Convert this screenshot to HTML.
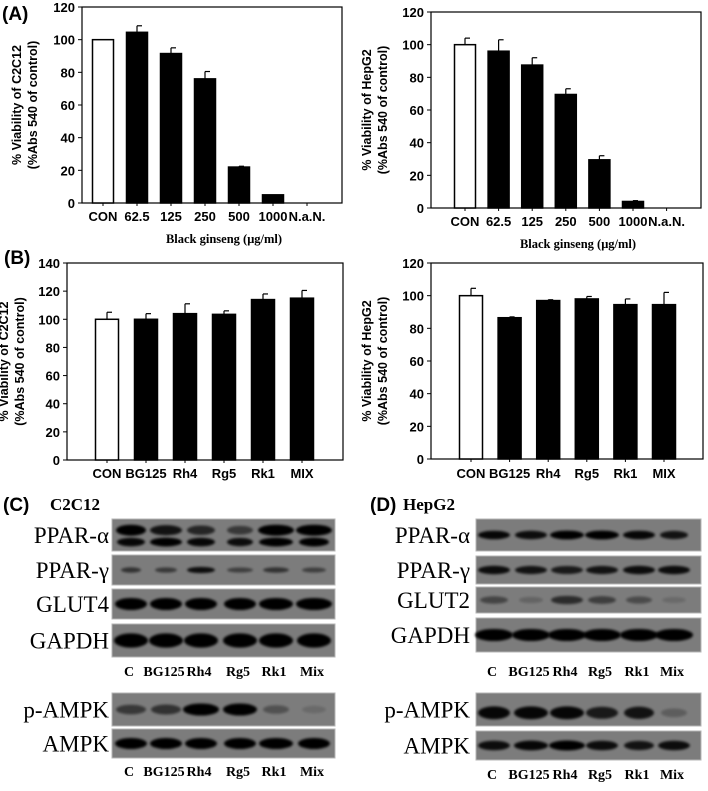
<!DOCTYPE html>
<html><head><meta charset="utf-8"><style>
html,body{margin:0;padding:0;background:#fff;}
body{width:708px;height:786px;overflow:hidden;position:relative;}
svg text{font-family:"Liberation Sans",sans-serif;}
</style></head><body>
<svg id="fig" width="708" height="786" viewBox="0 0 708 786" xmlns="http://www.w3.org/2000/svg">
<defs><filter id="blur" x="-20%" y="-50%" width="140%" height="200%"><feGaussianBlur stdDeviation="1.4"/></filter></defs>
<text x="2" y="20" font-size="19" font-weight="bold">(A)</text>
<text x="4" y="264" font-size="19" font-weight="bold">(B)</text>
<text x="3" y="511" font-size="19" font-weight="bold">(C)</text>
<text x="50" y="510" font-size="17" font-weight="bold" style="font-family:'Liberation Serif',serif">C2C12</text>
<text x="370" y="511" font-size="19" font-weight="bold">(D)</text>
<text x="403" y="510" font-size="17" font-weight="bold" style="font-family:'Liberation Serif',serif">HepG2</text>
<g id="charts"></g>
<g id="blots"></g>
</svg>
<script>
const NS='http://www.w3.org/2000/svg';
const aCats=['CON','62.5','125','250','500','1000','N.a.N.'];
const aC2Vals=[100,104.5,91.5,76,22,5,0];
const aC2Err=[0,4,3.5,4.5,0.5,0,0];
const aHepVals=[100,96,87.5,69.5,29.5,4,0];
const aHepErr=[4,7,4.5,3.5,2.5,0.5,0];
const aTicks=[0,20,40,60,80,100,120];
const bCats=['CON','BG125','Rh4','Rg5','Rk1','MIX'];
const bC2Vals=[100,100,104,103.5,114,115];
const bC2Err=[5,4,7,2.5,4,5.5];
const bHepVals=[100,86.5,97,98,94.5,94.5];
const bHepErr=[4.5,0.5,0.5,1.5,3.5,7.5];
const bC2Ticks=[0,20,40,60,80,100,120,140];
const bHepTicks=[0,20,40,60,80,100,120];
const lanes=['C','BG125','Rh4','Rg5','Rk1','Mix'];

function mk(tag,attrs,parent,txt){const e=document.createElementNS(NS,tag);for(const k in attrs)e.setAttribute(k,attrs[k]);if(txt!==undefined)e.textContent=txt;parent.appendChild(e);return e;}
const charts=document.getElementById('charts');

function chart(name,box,cats,vals,errs,ticks,ymax,ytitle,xtitle){
  const g=mk('g',{},charts);
  
  
  const y=v=>box.y0-(v/ymax)*(box.y0-box.top);
  const x=i=>box.c0+i*box.step;
  const frame=mk('rect',{x:box.x,y:box.top,width:box.r-box.x,height:box.y0-box.top,fill:'none',stroke:'#000','stroke-width':1.2},g);
  
  
  ticks.forEach(t=>{
    mk('line',{x1:box.x-4,x2:box.x,y1:y(t),y2:y(t),stroke:'#000'},g);
    const tl=mk('text',{x:box.x-7,y:y(t)+5,'font-size':13,'font-weight':'bold','text-anchor':'end'},g,String(t));
    
    
  });
  cats.forEach((c,i)=>{
    const cx=x(i),v=vals[i];
    if(v>0){
      const b=mk('rect',{x:cx-box.bw/2,y:y(v),width:box.bw,height:box.y0-y(v),fill:i===0?'#fff':'#000',stroke:'#000','stroke-width':1.5},g);
      
      
      if(errs[i]>0){
        mk('line',{x1:cx,x2:cx,y1:y(v),y2:y(v+errs[i]),stroke:'#000','stroke-width':1.2},g);
        mk('line',{x1:cx,x2:cx+5,y1:y(v+errs[i]),y2:y(v+errs[i]),stroke:'#000','stroke-width':1.2},g);
      }
    }
    mk('line',{x1:cx,x2:cx,y1:box.y0,y2:box.y0+3,stroke:'#000'},g);
    const xl=mk('text',{x:cx,y:box.ly,'font-size':13,'font-weight':'bold','text-anchor':'middle'},g,c);
    
    
  });
  const cy=(box.top+box.y0)/2;
  const yt=mk('text',{transform:`translate(${box.tx},${cy}) rotate(-90)`,'font-size':12.5,'font-weight':'bold','text-anchor':'middle'},g);
  
  
  mk('tspan',{x:0,y:0},yt,ytitle);
  mk('tspan',{x:0,y:16},yt,'(%Abs 540 of control)');
  if(xtitle){
    const xt=mk('text',{x:(box.x+box.r)/2+12,y:box.ly+22,'font-size':12.5,'font-weight':'bold','text-anchor':'middle',style:"font-family:'Liberation Serif',serif"},g,xtitle);
    
    
  }
}
chart('chart-a-c2c12',{x:82,r:342,top:7,y0:203,c0:103,step:34,bw:21,ly:221,tx:21},aCats,aC2Vals,aC2Err,aTicks,120,'% Viability of C2C12','Black ginseng (\u03bcg/ml)');
chart('chart-a-hepg2',{x:431,r:701,top:12,y0:208,c0:465,step:33.6,bw:21,ly:226,tx:371},aCats,aHepVals,aHepErr,aTicks,120,'% Viability of HepG2','Black ginseng (\u03bcg/ml)');
chart('chart-b-c2c12',{x:67,r:343,top:263,y0:460,c0:107,step:39,bw:23,ly:478,tx:8},bCats,bC2Vals,bC2Err,bC2Ticks,140,'% Viability of C2C12',null);
chart('chart-b-hepg2',{x:431,r:703,top:263,y0:459,c0:471,step:38.6,bw:23,ly:478,tx:371},bCats,bHepVals,bHepErr,bHepTicks,120,'% Viability of HepG2',null);

// Western blots
const blots=document.getElementById('blots');
const cLanes=[131,166,201,240,276,314];
const dLanes=[494,531,567,602,639,674];
const cRows=[
 {n:'PPAR-\u03b1',y:519,h:32,b:[[0.35,[1,.85,.7,.55,1,1],10,[26,28,24,22,32,32]],[0.72,[.95,1,.95,.9,1,1],8,[24,28,24,22,30,26]]]},
 {n:'PPAR-\u03b3',y:555,h:30,b:[[0.5,[.6,.55,.9,.5,.6,.5],6,[16,18,24,22,22,20]]]},
 {n:'GLUT4',y:589,h:30,b:[[0.5,[1,1,1,1,1,1],11,[28,28,28,28,30,32]]]},
 {n:'GAPDH',y:624,h:33,b:[[0.5,[1,1,1,1,1,1],13,[30,30,30,30,30,30]]]},
 {n:'p-AMPK',y:693,h:33,b:[[0.5,[.55,.6,1,1,.35,.15],11,[26,26,32,30,22,20]]]},
 {n:'AMPK',y:729,h:29,b:[[0.5,[1,1,1,1,1,1],10,[28,28,28,28,30,28]]]}
];
const dRows=[
 {n:'PPAR-\u03b1',y:519,h:32,b:[[0.5,[.95,.9,1,1,.95,.85],8,[28,28,30,30,28,24]]]},
 {n:'PPAR-\u03b3',y:556,h:28,b:[[0.5,[.9,.85,.8,.85,.9,.9],8,[28,28,28,28,28,28]]]},
 {n:'GLUT2',y:587,h:26,b:[[0.5,[.45,.2,.65,.5,.4,.15],9,[24,20,28,24,22,20]]]},
 {n:'GAPDH',y:618,h:34,b:[[0.5,[1,1,1,1,1,1],11,[34,34,34,34,34,34]]]},
 {n:'p-AMPK',y:693,h:33,b:[[0.6,[.95,.95,.95,.8,.85,.25],12,[28,30,30,28,26,22]]]},
 {n:'AMPK',y:731,h:29,b:[[0.5,[.9,.95,1,.9,.85,.9],9,[28,30,32,28,26,28]]]}
];
function blot(name,x0,x1,lx,lanesX,rows,lblY){
  const g=mk('g',{},blots);
  
  
  rows.forEach(r=>{
    const rg=mk('g',{},g);
    
    
    mk('rect',{x:x0,y:r.y,width:x1-x0,height:r.h,fill:'#7c7c7c',stroke:'#b5b5b5','stroke-width':1},rg);
    r.b.forEach(([fy,ints,th,ws])=>{
      lanesX.forEach((cx,i)=>{
        const o=ints[i];
        mk('ellipse',{cx:cx,cy:r.y+r.h*fy,rx:ws[i]/2+2,ry:th/2*(0.6+0.5*o),fill:'#050505','fill-opacity':o,filter:'url(#blur)'},rg);
      });
    });
    const t=mk('text',{x:lx,y:r.y+r.h/2+8,'font-size':23,'text-anchor':'end',style:"font-family:'Liberation Serif',serif"},g,r.n);
    
    
  });
  lblY.forEach(yy=>{
    lanes.forEach((l,i)=>{
      const t=mk('text',{x:lanesX[i]-2,y:yy,'font-size':14,'font-weight':'bold','text-anchor':'middle',style:"font-family:'Liberation Serif',serif"},g,l);
      
      
    });
  });
}
blot('western-blot-c2c12',112,335,109,cLanes,cRows,[676,776]);
blot('western-blot-hepg2',476,701,470,dLanes,dRows,[676,779]);
</script>
</body></html>
